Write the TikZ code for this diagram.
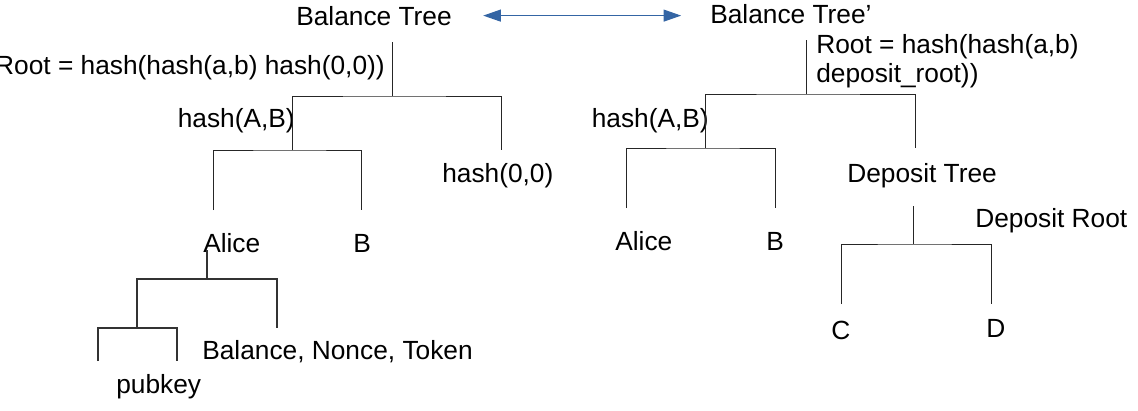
\documentclass[tikz,border=0pt]{standalone}
\usepackage{fontspec}
\setmainfont{Liberation Sans}
\usetikzlibrary{arrows.meta}
\definecolor{linkblue}{HTML}{3465A4}

\begin{document}
\begin{tikzpicture}[x=0.025cm, y=-0.025cm, font=\fontsize{18.7}{20.6}\selectfont,
  lbl/.style={inner sep=0pt, anchor=base west},
  tree/.style={line width=0.6pt, black!85},
  leaf/.style={line width=0.95pt, black!80},
  >={Triangle[length=12.5pt, width=8.5pt]}]
  \useasboundingbox (0,0) rectangle (1138,410);
  % tree names and the link between them
  \node[lbl] (bt) at (296,25) {Balance Tree};
  \node[lbl] (btp) at (710,23) {Balance Tree’};
  \draw[<->, linkblue, line width=0.8pt, shorten <=0.78cm, shorten >=0.72cm]
    (bt.east) -- (bt.east -| btp.west);
  % left tree labels
  \node[lbl, anchor=base east] (rootL) at (385,74) {Root = hash(hash(a,b) hash(0,0))};
  \node[lbl, anchor=base east] (abL) at (295,127) {hash(A,B)};
  \node[lbl] (zeroL) at (442,182) {hash(0,0)};
  \node[lbl] (aliceL) at (203,252) {Alice};
  \node[lbl] (bL) at (353,252) {B};
  \node[lbl] (dataL) at (202,359) {Balance, Nonce, Token};
  \node[lbl] (pubL) at (116,393) {pubkey};
  % left tree branches
  \coordinate (lTop) at (392,42);
  \coordinate (lJoin) at (392,96);
  \coordinate (lAB) at (292,150);
  \coordinate (lZero) at (501,150);
  \coordinate (lAlice) at (213,210);
  \coordinate (lB) at (361,210);
  \draw[tree] (lTop) -- (lJoin);
  \draw[tree] (lAB) |- (lJoin) -| (lZero);
  \draw[tree] (lAlice) |- (lAB) -| (lB);
  % account leaf under Alice
  \coordinate (aTop) at (207,250);
  \coordinate (aJoin) at (207,279);
  \coordinate (aKey) at (137,328);
  \coordinate (aData) at (277,328);
  \coordinate (kL) at (98,361);
  \coordinate (kR) at (177,361);
  \draw[leaf] (aTop) -- (aJoin);
  \draw[leaf] (aKey) |- (aJoin) -| (aData);
  \draw[leaf] (kL) |- (aKey) -| (kR);
  % right tree labels
  \node[lbl, align=left] (rootR) at (816,82) {Root = hash(hash(a,b)\\deposit\_root))};
  \node[lbl, anchor=base east] (abR) at (709,127) {hash(A,B)};
  \node[lbl] (aliceR) at (615,250) {Alice};
  \node[lbl] (bR) at (766,250) {B};
  \node[lbl] (depT) at (847,182) {Deposit Tree};
  \node[lbl] (depR) at (975,227) {Deposit Root};
  \node[lbl] (cR) at (831,339) {C};
  \node[lbl] (dR) at (986,337) {D};
  % right tree branches
  \coordinate (rTop) at (806,40);
  \coordinate (rJoin) at (806,94);
  \coordinate (rAB) at (705,148);
  \coordinate (rDep) at (915,148);
  \coordinate (rAlice) at (626,208);
  \coordinate (rB) at (775,208);
  \draw[tree] (rTop) -- (rJoin);
  \draw[tree] (rAB) |- (rJoin) -| (rDep);
  \draw[tree] (rAlice) |- (rAB) -| (rB);
  % deposit subtree
  \coordinate (dTop) at (913,206);
  \coordinate (dJoin) at (913,244);
  \coordinate (dC) at (841,304);
  \coordinate (dD) at (991,304);
  \draw[tree] (dTop) -- (dJoin);
  \draw[tree] (dC) |- (dJoin) -| (dD);
\end{tikzpicture}
\end{document}
